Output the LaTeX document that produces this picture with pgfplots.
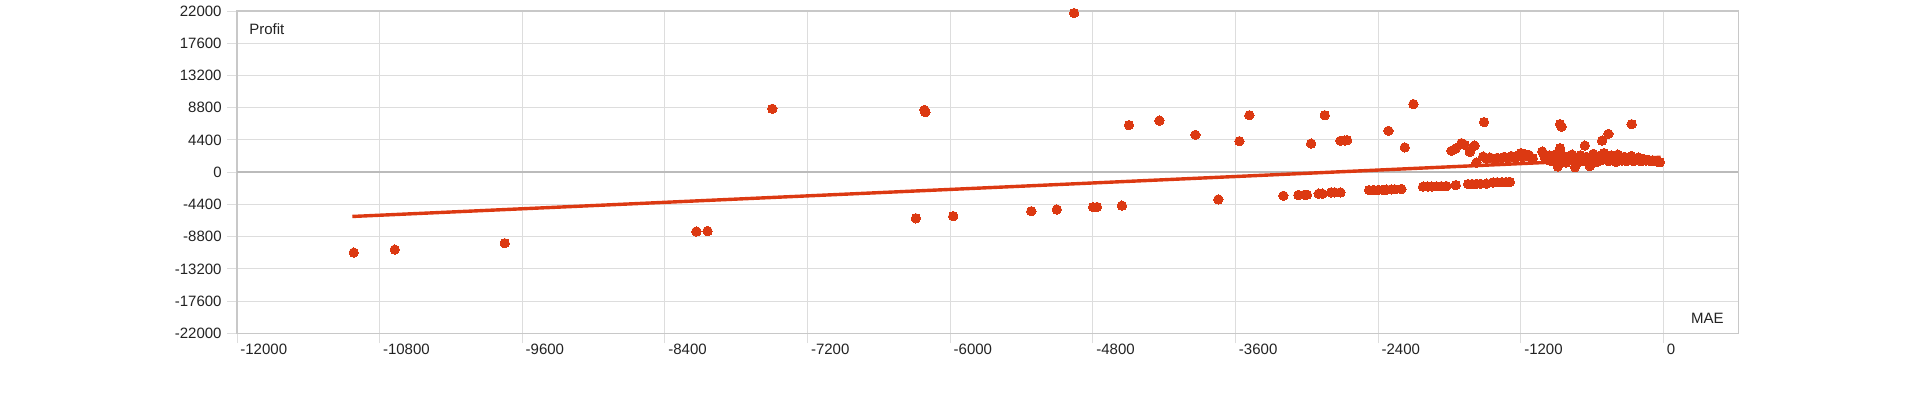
\documentclass[border=0pt]{standalone}
\usepackage{pgfplots}
\pgfplotsset{compat=1.18}
\usepackage{fontspec}
\setmainfont{Liberation Sans}
\definecolor{dotred}{HTML}{DC3912}
\definecolor{gridc}{HTML}{DDDDDD}
\definecolor{borderc}{HTML}{C8C8C8}
\definecolor{zeroc}{HTML}{BBBBBB}
\definecolor{labc}{HTML}{222222}
\begin{document}
\begin{tikzpicture}
\path[use as bounding box] (-118.5pt,-34.35pt) rectangle (841.5pt,166.65pt);
\begin{axis}[
  scale only axis, width=750.65pt, height=161.15pt,
  xmin=-12000, xmax=629, ymin=-22000, ymax=22000,
  clip=false, scaled ticks=false,
  xtick={-12000,-10800,-9600,-8400,-7200,-6000,-4800,-3600,-2400,-1200,0},
  xticklabels={-12000,-10800,-9600,-8400,-7200,-6000,-4800,-3600,-2400,-1200,0},
  ytick={-22000,-17600,-13200,-8800,-4400,0,4400,8800,13200,17600,22000},
  yticklabels={-22000,-17600,-13200,-8800,-4400,0,4400,8800,13200,17600,22000},
  grid=major, major grid style={gridc, line width=0.5pt},
  axis line style={borderc, line width=0.6pt},
  tick style={gridc, line width=0.5pt},
  tick align=outside, major tick length=5pt,
  xtick pos=bottom, ytick pos=left,
  tick label style={font=\fontsize{7.5}{9}\selectfont, text=labc, inner sep=0pt},
  yticklabel style={anchor=east, xshift=-2.5pt},
  xticklabel style={anchor=north west, xshift=1.5pt},
  extra y ticks={0}, extra y tick labels={},
  extra y tick style={major grid style={zeroc, line width=1.1pt}, tick style={draw=none}},
]
\addplot[dotred, line width=1.7pt, no marks] coordinates {(-11030,-6050) (-25,2030)};
\addplot[only marks, mark=*, mark size=2.35pt, color=dotred, mark options={fill=dotred, draw=dotred, line width=0pt}] coordinates {
(-11018,-10980) (-10673,-10570) (-9748,-9700) (-8136,-8100) (-8042,-8040)
(-7497,8650) (-6289,-6300) (-6217,8500) (-6210,8200) (-5975,-6000)
(-5318,-5330) (-5104,-5100) (-4958,21720) (-4798,-4780) (-4766,-4750)
(-4556,-4570) (-4497,6420) (-4241,7040) (-3938,5090) (-3745,-3720)
(-3568,4230) (-3484,7770) (-3198,-3220) (-3072,-3120) (-3019,-3080)
(-3000,-3080) (-2965,3910) (-2901,-2940) (-2870,-2940) (-2850,7770)
(-2797,-2760) (-2766,-2760) (-2718,-2760) (-2718,4280) (-2682,4320) (-2662,4370)
(-2477,-2450) (-2440,-2430) (-2400,-2420) (-2360,-2400) (-2331,-2390)
(-2290,-2350) (-2261,-2340) (-2205,-2300)
(-2314,5640) (-2177,3380) (-2104,9290)
(-2023,-1980) (-1985,-1960) (-1950,-1950) (-1910,-1930) (-1870,-1920) (-1826,-1900)
(-1748,-1770)
(-1644,-1630) (-1610,-1610) (-1575,-1600) (-1540,-1590) (-1490,-1570)
(-1434,-1400) (-1400,-1380) (-1360,-1370) (-1325,-1350) (-1293,-1330)
(-1784,2910) (-1750,3220) (-1700,3960) (-1672,3730) (-1630,2770) (-1590,3630)
(-1510,6830)
(-1574,1310) (-1518,2130) (-1490,1850) (-1460,2000) (-1430,1800) (-1400,1950)
(-1370,1850) (-1340,2100) (-1310,1900) (-1280,2200) (-1250,1950) (-1220,2300)
(-1190,2050) (-1160,2400) (-1130,2150) (-1100,1900) (-1200,2600) (-1135,2360)
(-1020,2810) (-1000,2100) (-980,1700) (-960,2300) (-940,1500) (-920,1900)
(-900,2500) (-890,770) (-880,1400) (-870,3270) (-871,6550) (-857,6220)
(-860,1800) (-840,2200) (-820,1300) (-800,2000) (-790,1600) (-770,2400)
(-745,680) (-736,1000) (-720,1900) (-700,2300) (-680,1500) (-662,3630)
(-650,2100) (-630,1700) (-620,830) (-610,1200) (-590,2500) (-575,1900)
(-560,1400) (-540,2200) (-517,4310) (-515,1700) (-500,2600) (-480,2000)
(-464,5220) (-460,1500) (-440,2300) (-420,1800) (-400,1400) (-385,2400)
(-370,1900) (-350,1600) (-330,2100) (-310,1500) (-290,1800) (-268,6550)
(-270,2200) (-250,1500) (-230,1700) (-210,2000) (-190,1500) (-170,1800)
(-150,1600) (-130,1700) (-110,1500) (-90,1600) (-70,1500) (-50,1400) (-30,1350)
};
\node[anchor=base west, inner sep=0pt, font=\fontsize{7.5}{9}\selectfont, text=labc] at (rel axis cs:0,1) [xshift=6pt, yshift=-11.65pt] {Profit};
\node[anchor=base east, inner sep=0pt, font=\fontsize{7.5}{9}\selectfont, text=labc] at (rel axis cs:1,0) [xshift=-7.15pt, yshift=5pt] {MAE};
\end{axis}
\end{tikzpicture}
\end{document}
